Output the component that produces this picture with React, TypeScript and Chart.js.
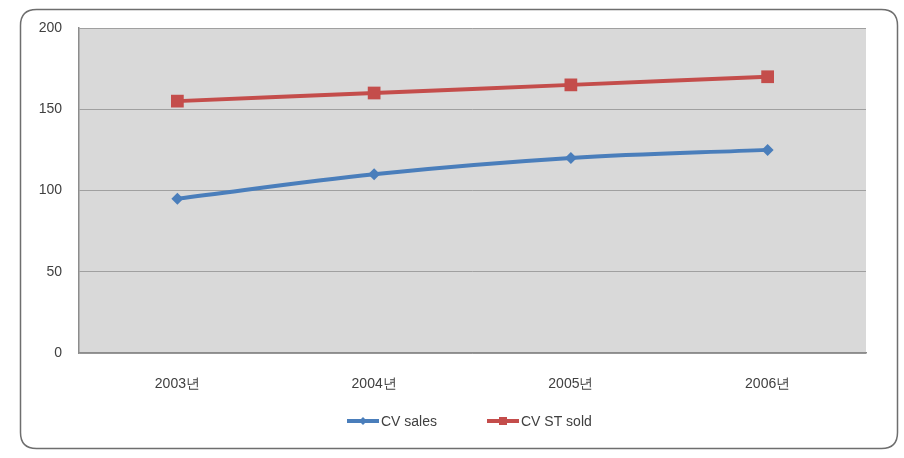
import React, { useEffect, useRef } from "react";
import { Chart, registerables } from "chart.js";

Chart.register(...registerables);

const categories = ["2003년", "2004년", "2005년", "2006년"];
const cvSales = [95, 110, 120, 125];
const cvStSold = [155, 160, 165, 170];
const yTicks = [0, 50, 100, 150, 200];

const BLUE = "#4a7ebb";
const RED = "#c44d4b";
const FONT = "'Liberation Sans', Arial, sans-serif";

const framePlugin = {
  id: "frame",
  beforeDraw(chart: any) {
    const { ctx, chartArea } = chart;
    ctx.save();
    ctx.fillStyle = "#ffffff";
    ctx.fillRect(0, 0, chart.width, chart.height);
    const x = 20.5, y = 9.5, w = 877, h = 439, r = 16;
    ctx.beginPath();
    ctx.moveTo(x + r, y);
    ctx.lineTo(x + w - r, y);
    ctx.quadraticCurveTo(x + w, y, x + w, y + r);
    ctx.lineTo(x + w, y + h - r);
    ctx.quadraticCurveTo(x + w, y + h, x + w - r, y + h);
    ctx.lineTo(x + r, y + h);
    ctx.quadraticCurveTo(x, y + h, x, y + h - r);
    ctx.lineTo(x, y + r);
    ctx.quadraticCurveTo(x, y, x + r, y);
    ctx.closePath();
    ctx.strokeStyle = "#6e6e6e";
    ctx.lineWidth = 1.5;
    ctx.stroke();
    ctx.fillStyle = "#d9d9d9";
    ctx.fillRect(chartArea.left, chartArea.top, chartArea.right - chartArea.left, chartArea.bottom - chartArea.top);
    ctx.restore();
  },
  afterDraw(chart: any) {
    const { ctx } = chart;
    ctx.save();
    const cy = 421;
    const items = [
      { x: 347, color: BLUE, style: "diamond" },
      { x: 487, color: RED, style: "square" },
    ];
    chart.data.datasets.forEach((ds: any, i: number) => {
      const it = items[i];
      ctx.strokeStyle = it.color;
      ctx.lineWidth = 4;
      ctx.beginPath();
      ctx.moveTo(it.x, cy);
      ctx.lineTo(it.x + 32, cy);
      ctx.stroke();
      ctx.fillStyle = it.color;
      const mx = it.x + 16;
      if (it.style === "diamond") {
        ctx.beginPath();
        ctx.moveTo(mx, cy - 4);
        ctx.lineTo(mx + 4, cy);
        ctx.lineTo(mx, cy + 4);
        ctx.lineTo(mx - 4, cy);
        ctx.closePath();
        ctx.fill();
      } else {
        ctx.fillRect(mx - 4, cy - 4, 8, 8);
      }
      ctx.fillStyle = "#404040";
      ctx.font = "14px " + FONT;
      ctx.textBaseline = "middle";
      ctx.textAlign = "left";
      ctx.fillText(ds.label, it.x + 34, cy + 1);
    });
    ctx.restore();
  },
};

export default function App() {
  const ref = useRef<HTMLCanvasElement>(null);
  useEffect(() => {
    document.body.style.margin = "0";
    const chart = new Chart(ref.current!, {
      type: "line",
      data: {
        labels: categories,
        datasets: [
          {
            label: "CV sales",
            data: cvSales,
            borderColor: BLUE,
            backgroundColor: BLUE,
            borderWidth: 4,
            pointStyle: "rectRot",
            pointRadius: 6,
            pointBorderWidth: 0,
            tension: 0.35,
          },
          {
            label: "CV ST sold",
            data: cvStSold,
            borderColor: RED,
            backgroundColor: RED,
            borderWidth: 4,
            pointStyle: "rect",
            pointRadius: 9,
            pointBorderWidth: 0,
            tension: 0.35,
          },
        ],
      },
      options: {
        animation: false,
        responsive: false,
        maintainAspectRatio: false,
        layout: { padding: { top: 28, right: 38, bottom: 53, left: 0 } },
        plugins: {
          legend: { display: false },
          tooltip: { enabled: false },
        },
        scales: {
          x: {
            offset: true,
            grid: { display: false, drawTicks: false },
            border: { color: "#8c8c8c", width: 1.5 },
            ticks: {
              color: "#404040",
              font: { size: 14, family: FONT },
              padding: 23,
            },
            afterFit(scale: any) {
              scale.height = 52;
            },
          },
          y: {
            min: 0,
            max: 200,
            afterBuildTicks(scale: any) {
              scale.ticks = yTicks.map((v) => ({ value: v }));
            },
            grid: { color: "#a0a0a0", lineWidth: 1, drawTicks: false },
            border: { color: "#8c8c8c", width: 1.5 },
            ticks: {
              color: "#404040",
              font: { size: 14, family: FONT },
              padding: 17,
            },
            afterFit(scale: any) {
              scale.width = 79;
            },
          },
        },
      },
      plugins: [framePlugin],
    });
    return () => chart.destroy();
  }, []);
  return (
    <div style={{ width: 904, height: 458 }}>
      <canvas ref={ref} width={904} height={458} style={{ display: "block" }} />
    </div>
  );
}
